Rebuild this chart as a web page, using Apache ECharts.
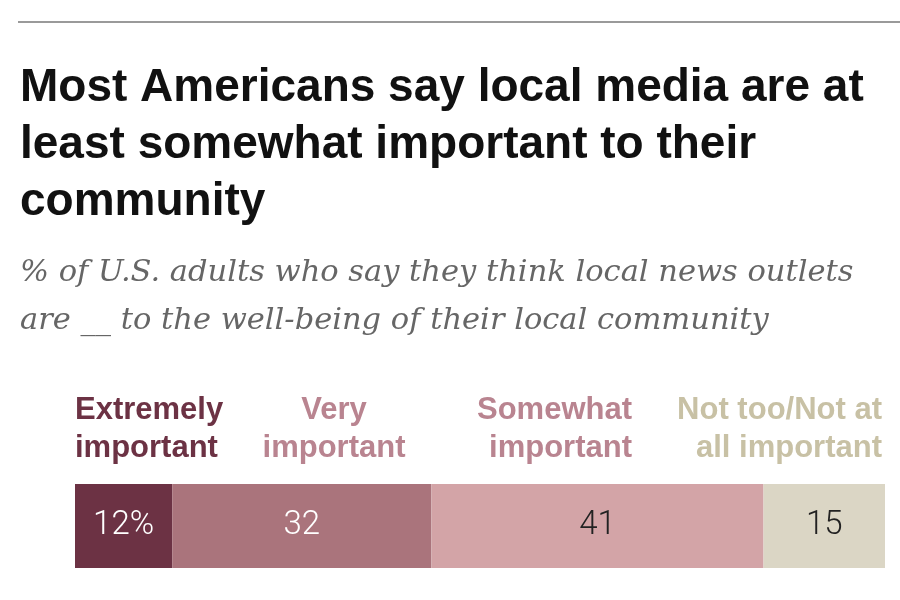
<!DOCTYPE html>
<html><head><meta charset="utf-8">
<script src="https://cdn.jsdelivr.net/npm/echarts@6/dist/echarts.min.js"></script>
<style>html,body{margin:0;padding:0;background:#fff}#c{width:900px;height:600px}</style>
</head><body><div id="c"></div>
<script>
const categories = ['Total'];
const seriesNames = ['Extremely important', 'Very important', 'Somewhat important', 'Not too/Not at all important'];
const legendLabels = [['Extremely', 'important'], ['Very', 'important'], ['Somewhat', 'important'], ['Not too/Not at', 'all important']];
const extremely = [12];
const very = [32];
const somewhat = [41];
const notToo = [15];
const valueLabels = [['12%'], ['32'], ['41'], ['15']];

const colors = ['#6c3244', '#aa747c', '#d3a4a7', '#dbd6c5'];
const legendColors = ['#6c3244', '#b98490', '#b98490', '#c8c1a5'];
const labelColors = ['#ffffff', '#ffffff', '#222222', '#222222'];
const seriesData = [extremely, very, somewhat, notToo];

const chart = echarts.init(document.getElementById('c'), null, {renderer: 'canvas'});

const series = seriesData.map((d, i) => ({
  name: seriesNames[i],
  type: 'bar',
  stack: 'all',
  data: d,
  barWidth: 84,
  itemStyle: {color: colors[i], borderWidth: 0},
  label: {
    show: true,
    position: 'inside',
    formatter: p => valueLabels[i][p.dataIndex],
    color: labelColors[i],
    fontFamily: 'Roboto',
    fontWeight: 300,
    fontSize: 33
  }
}));

const legendPos = [
  {x: 75, align: 'left'},
  {x: 334, align: 'center'},
  {x: 632, align: 'right'},
  {x: 882, align: 'right'}
];

const graphic = [
  {type: 'line', shape: {x1: 18, y1: 22, x2: 900, y2: 22}, style: {stroke: '#9a9a9a', lineWidth: 2}},
  {type: 'text', left: 20, top: 60, style: {
    text: 'Most Americans say local media are at\nleast somewhat important to their\ncommunity',
    font: 'bold 46px "Liberation Sans", Arial, sans-serif', fill: '#111', lineHeight: 57}},
  {type: 'text', left: 20, top: 249, style: {
    text: '% of U.S. adults who say they think local news outlets\nare __ to the well-being of their local community',
    font: 'italic 30.5px "DejaVu Serif", Georgia, serif', fill: '#666', lineHeight: 48}}
];
legendLabels.forEach((l, i) => {
  graphic.push({type: 'text', x: legendPos[i].x, y: 391, style: {
    text: l.join('\n'), font: 'bold 31px "Liberation Sans", Arial, sans-serif',
    fill: legendColors[i], lineHeight: 38, align: legendPos[i].align}});
});

chart.setOption({
  animation: false,
  backgroundColor: '#fff',
  grid: {left: 75, right: 15, top: 484, height: 84},
  xAxis: {type: 'value', min: 0, max: 100, show: false},
  yAxis: {type: 'category', data: categories, show: false},
  series: series,
  graphic: graphic
});
</script></body></html>
